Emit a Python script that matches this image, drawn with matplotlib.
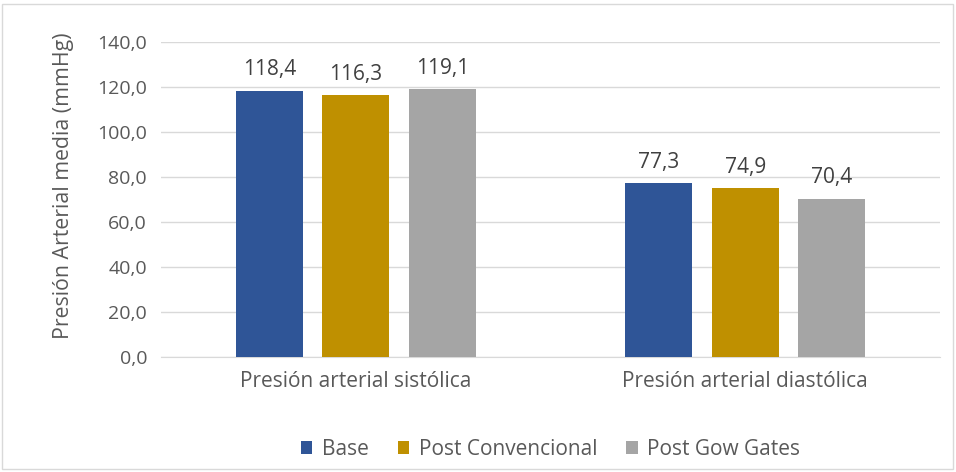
import matplotlib
matplotlib.use("Agg")
import matplotlib.pyplot as plt
import numpy as np
from matplotlib.patches import Rectangle

categories = ["Presión arterial sistólica", "Presión arterial diastólica"]
series_names = ["Base", "Post Convencional", "Post Gow Gates"]
base = [118.4, 77.3]
post_conv = [116.3, 74.9]
post_gow = [119.1, 70.4]
colors = ["#2F5597", "#BF9000", "#A5A5A5"]
yticks = [0, 20, 40, 60, 80, 100, 120, 140]

plt.rcParams['font.family'] = ['Open Sans', 'DejaVu Sans']
FS = 15

fig = plt.figure(figsize=(9.56, 4.72), dpi=100)
ax = fig.add_axes([161/956, 1-357/472, 779/956, (357-42)/472])

x = np.arange(len(categories))
width = 0.172
step = 0.222
data = [base, post_conv, post_gow]
for i, (vals, name, c) in enumerate(zip(data, series_names, colors)):
    bars = ax.bar(x + (i-1)*step, vals, width, color=c, label=name, zorder=3)
    for b, v in zip(bars, vals):
        ax.text(b.get_x()+b.get_width()/2, v + 4.5, f"{v:.1f}".replace('.', ','),
                ha='center', va='bottom', fontsize=FS, color='#404040')

ax.set_xlim(-0.5, 1.5)
ax.set_ylim(0, 140)
ax.set_yticks(yticks)
ax.set_yticklabels([f"{t:.1f}".replace('.', ',') for t in yticks], fontsize=14, color='#595959')
ax.set_xticks(x)
ax.set_xticklabels(categories, fontsize=FS, color='#595959')
ax.tick_params(axis='y', length=0, pad=10)
ax.tick_params(axis='x', length=0, pad=10)
ax.grid(axis='y', color='#D9D9D9', linewidth=1, zorder=0)
for s in ['top', 'right', 'left']:
    ax.spines[s].set_visible(False)
ax.spines['bottom'].set_color('#D9D9D9')
ax.set_ylabel("Presión Arterial media (mmHg)", fontsize=15.3, color='#595959')
ax.yaxis.set_label_coords(-87/779, 0.543)

ax.legend(loc='upper center', bbox_to_anchor=(0.5, -0.2), ncol=3, frameon=False,
          fontsize=FS, handlelength=0.55, handleheight=0.55, columnspacing=1.4,
          handletextpad=0.45, labelcolor='#595959')

fig.patches.append(Rectangle((2/956, 3/472), 951/956, 465/472, transform=fig.transFigure,
                             fill=False, edgecolor='#D9D9D9', linewidth=1))

fig.savefig("out.png", dpi=100)
